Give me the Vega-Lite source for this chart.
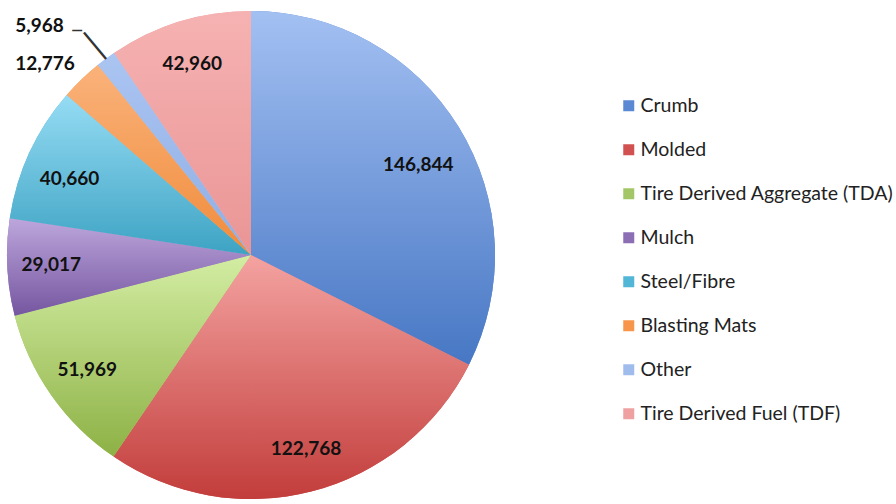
{
  "$schema": "https://vega.github.io/schema/vega-lite/v6.json",
  "width": 502,
  "height": 510,
  "autosize": {"type": "none"},
  "padding": {"left": 0, "top": 0, "right": 394, "bottom": 0},
  "background": "white",
  "config": {"view": {"stroke": null}},
  "data": {
    "values": [
      {"category": "Crumb", "value": 146844, "order": 1},
      {"category": "Molded", "value": 122768, "order": 2},
      {"category": "Tire Derived Aggregate (TDA)", "value": 51969, "order": 3},
      {"category": "Mulch", "value": 29017, "order": 4},
      {"category": "Steel/Fibre", "value": 40660, "order": 5},
      {"category": "Blasting Mats", "value": 12776, "order": 6},
      {"category": "Other", "value": 5968, "order": 7},
      {"category": "Tire Derived Fuel (TDF)", "value": 42960, "order": 8}
    ]
  },
  "encoding": {
    "theta": {"field": "value", "type": "quantitative", "stack": true},
    "order": {"field": "order", "type": "quantitative"},
    "detail": {"field": "category", "type": "nominal"}
  },
  "layer": [
    {
      "mark": {"type": "arc", "outerRadius": 244},
      "encoding": {
        "color": {
          "field": "category",
          "type": "nominal",
          "scale": {
            "domain": ["Crumb", "Molded", "Tire Derived Aggregate (TDA)", "Mulch", "Steel/Fibre", "Blasting Mats", "Other", "Tire Derived Fuel (TDF)"],
            "range": ["#5B88D2", "#D0514F", "#A3C766", "#8C6EB4", "#52B6D6", "#F7964A", "#A0BCEC", "#EFA0A0"]
          },
          "legend": {
            "title": null,
            "orient": "none",
            "legendX": 619,
            "legendY": 96,
            "symbolType": "square",
            "symbolSize": 121,
            "symbolStrokeWidth": 0,
            "labelFont": "Lato",
            "labelFontSize": 19.5,
            "labelColor": "#222222",
            "labelOffset": 2,
            "rowPadding": 23,
            "padding": 0,
            "labelLimit": 400
          }
        }
      }
    },
    {
      "mark": {"type": "arc", "outerRadius": 244},
      "encoding": {
        "fill": {
          "condition": [
            {"test": "datum.category==='Crumb'", "value": {"gradient": "linear", "x1": 0, "y1": 0, "x2": 0, "y2": 1, "stops": [{"offset": 0, "color": "#A3C0F2"}, {"offset": 1, "color": "#4777C4"}]}},
            {"test": "datum.category==='Molded'", "value": {"gradient": "linear", "x1": 0, "y1": 0, "x2": 0, "y2": 1, "stops": [{"offset": 0, "color": "#F4A3A1"}, {"offset": 1, "color": "#C23D3B"}]}},
            {"test": "datum.category==='Tire Derived Aggregate (TDA)'", "value": {"gradient": "linear", "x1": 0, "y1": 0, "x2": 0, "y2": 1, "stops": [{"offset": 0, "color": "#D3EDA3"}, {"offset": 1, "color": "#8DB145"}]}},
            {"test": "datum.category==='Mulch'", "value": {"gradient": "linear", "x1": 0, "y1": 0, "x2": 0, "y2": 1, "stops": [{"offset": 0, "color": "#BDA6DC"}, {"offset": 1, "color": "#7556A0"}]}},
            {"test": "datum.category==='Steel/Fibre'", "value": {"gradient": "linear", "x1": 0, "y1": 0, "x2": 0, "y2": 1, "stops": [{"offset": 0, "color": "#96DCF4"}, {"offset": 1, "color": "#3DA3C3"}]}},
            {"test": "datum.category==='Blasting Mats'", "value": {"gradient": "linear", "x1": 0, "y1": 0, "x2": 0, "y2": 1, "stops": [{"offset": 0, "color": "#FAB27A"}, {"offset": 1, "color": "#F08C3C"}]}},
            {"test": "datum.category==='Other'", "value": {"gradient": "linear", "x1": 0, "y1": 0, "x2": 0, "y2": 1, "stops": [{"offset": 0, "color": "#ABC5F2"}, {"offset": 1, "color": "#8FAEE4"}]}}
          ],
          "value": {"gradient": "linear", "x1": 0, "y1": 0, "x2": 0, "y2": 1, "stops": [{"offset": 0, "color": "#F6B2B2"}, {"offset": 1, "color": "#EA9595"}]}
        }
      }
    },
    {
      "mark": {
        "type": "text",
        "font": "Lato",
        "fontSize": 19,
        "fontWeight": "bold",
        "color": "#111111",
        "align": "center",
        "baseline": "middle",
        "radius": {"expr": "datum.category==='Other' ? 300 : datum.category==='Blasting Mats' ? 275 : 200"},
        "dx": {"expr": "datum.category==='Crumb' ? -3 : datum.category==='Blasting Mats' ? -15 : datum.category==='Other' ? -33 : datum.category==='Molded' ? 5 : 0"},
        "dy": {"expr": "datum.category==='Crumb' ? 15 : datum.category==='Blasting Mats' ? 7 : datum.category==='Other' ? 12 : datum.category==='Steel/Fibre' ? 8 : 0"}
      },
      "encoding": {
        "text": {"field": "value", "type": "quantitative", "format": ","}
      }
    },
    {
      "mark": {
        "type": "text",
        "font": "DejaVu Sans",
        "fontSize": 29,
        "color": "#333333",
        "align": "center",
        "baseline": "middle",
        "radius": 262,
        "angle": 320,
        "dx": -1,
        "dy": 2
      },
      "encoding": {
        "text": {"condition": {"test": "datum.category==='Other'", "value": "│"}, "value": ""}
      }
    },
    {
      "mark": {
        "type": "text",
        "font": "DejaVu Sans",
        "fontSize": 16,
        "color": "#333333",
        "align": "center",
        "baseline": "middle",
        "radius": 262,
        "dx": -18,
        "dy": -13
      },
      "encoding": {
        "text": {"condition": {"test": "datum.category==='Other'", "value": "─"}, "value": ""}
      }
    }
  ]
}
